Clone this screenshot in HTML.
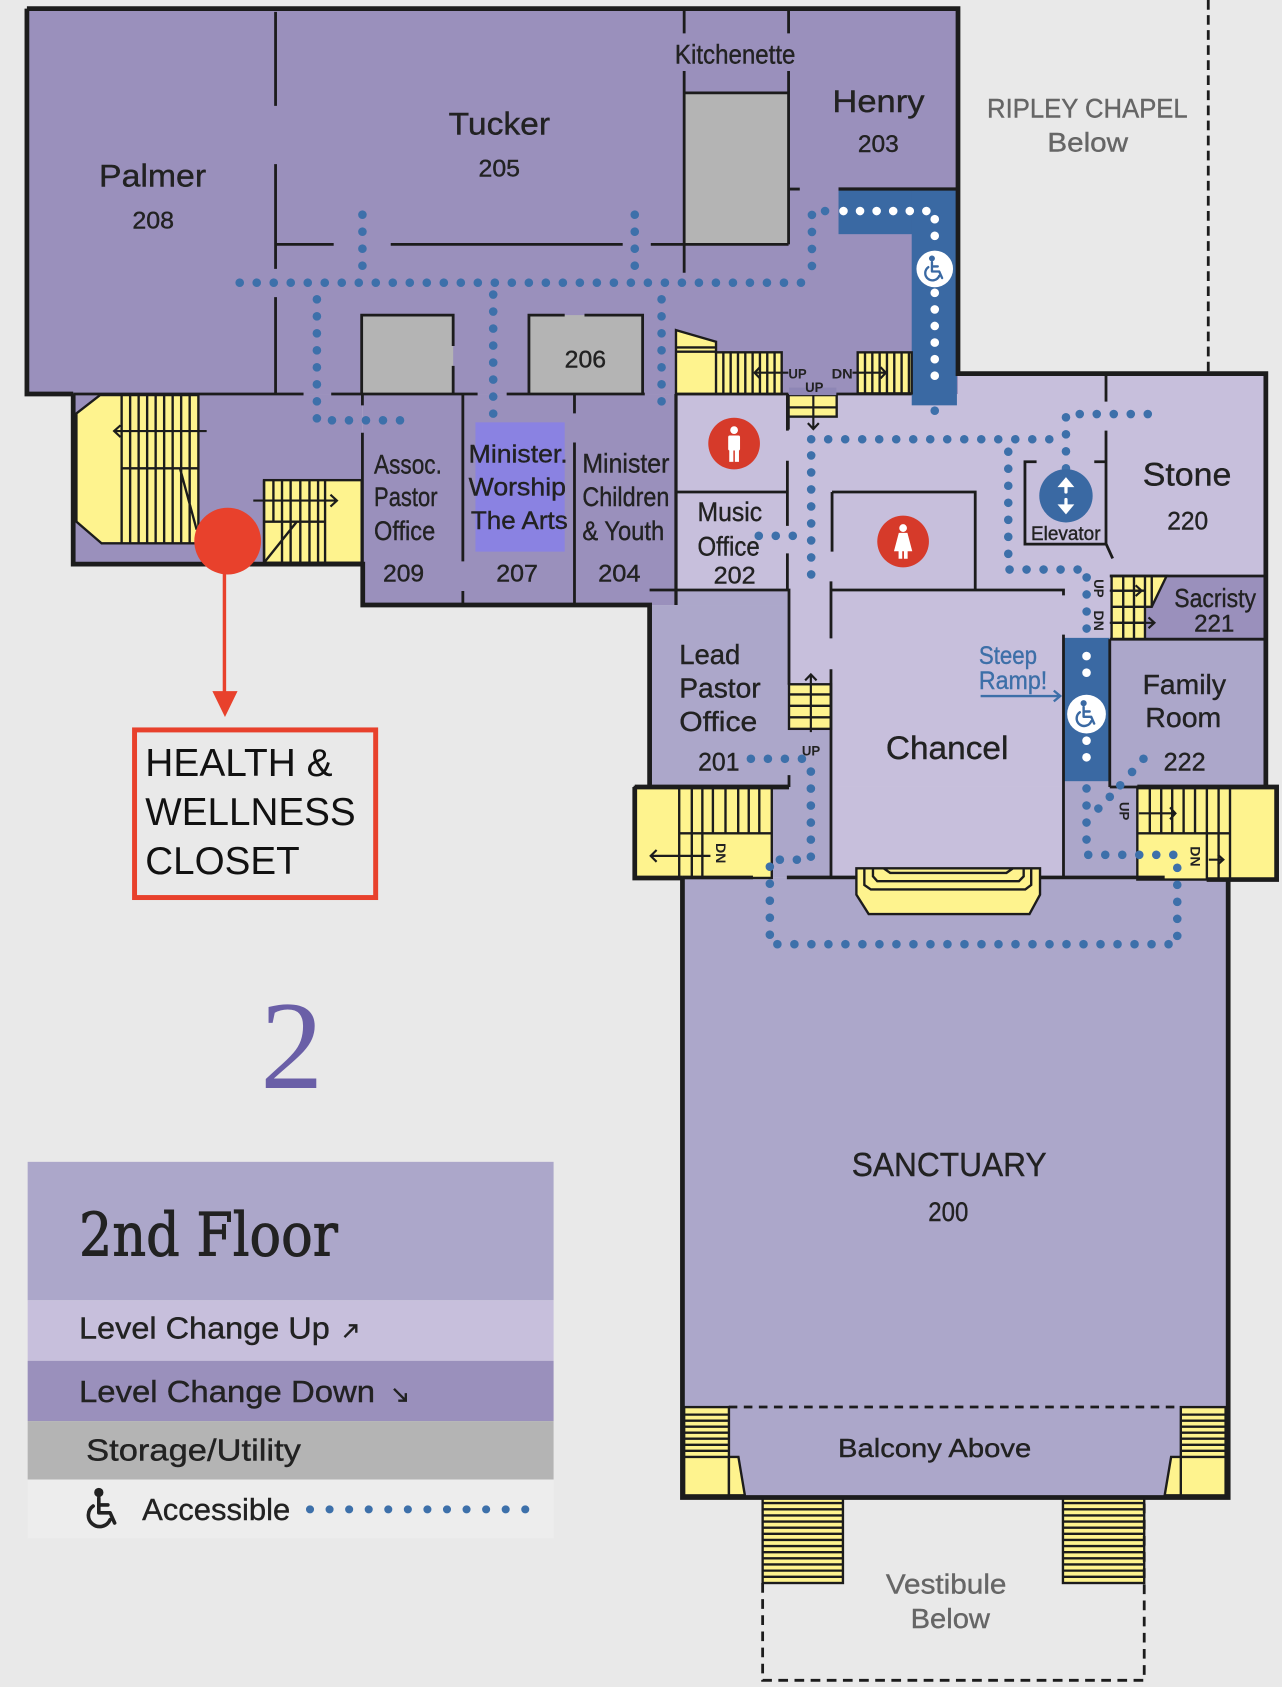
<!DOCTYPE html>
<html><head><meta charset="utf-8"><style>
html,body{margin:0;padding:0;background:#e9e9e9;overflow:hidden;}
svg{display:block;}
.t{font-family:"Liberation Sans",Arial,sans-serif;fill:#222;}
.s{stroke:#1c1c1c;fill:none;}
</style></head><body>
<svg xmlns="http://www.w3.org/2000/svg" width="1282" height="1687" viewBox="0 0 1191 1567" preserveAspectRatio="none">
<defs>
<symbol id="wc" viewBox="0 0 40 40">
<circle cx="16" cy="6" r="3.6"/>
<path d="M16 11V24H26L30 33M16 17H24M11 18A10 10 0 1 0 26 30" fill="none" stroke-width="3.2" stroke-linecap="round" stroke-linejoin="round"/>
</symbol>
</defs>
<rect x="0" y="0" width="1191" height="1567" fill="#e9e9e9"/>

<!-- light purple base -->
<rect x="628" y="347" width="548" height="384" fill="#c7bfdc"/>
<rect x="772" y="731" width="216" height="84" fill="#c7bfdc"/>
<!-- upper dark block -->
<rect x="25" y="8" width="865" height="358" fill="#9a90bc"/>
<rect x="68" y="366" width="269" height="158" fill="#9a90bc"/>
<rect x="337" y="366" width="291" height="196" fill="#9a90bc"/>
<!-- mid purple -->
<rect x="603.5" y="562" width="129.5" height="169" fill="#aca7ca"/>
<rect x="628" y="548" width="105" height="14" fill="#aca7ca"/>
<rect x="733" y="677" width="39" height="138" fill="#aca7ca"/>
<rect x="717" y="731" width="55" height="84" fill="#aca7ca"/>
<rect x="988" y="725" width="72" height="90" fill="#aca7ca"/>
<rect x="1031" y="593.7" width="145" height="137.3" fill="#aca7ca"/>
<rect x="634" y="815" width="507" height="576" fill="#aca7ca"/>
<!-- sacristy dark -->
<rect x="1063" y="535" width="113" height="58.7" fill="#9a90bc"/>
<!-- storage -->
<rect x="635.6" y="86.3" width="97" height="140.7" fill="#b4b4b4"/>
<rect x="336" y="292.7" width="85" height="73.3" fill="#b4b4b4"/>
<rect x="491.4" y="292.7" width="105.6" height="73.3" fill="#b4b4b4"/>
<!-- highlight -->
<rect x="441.7" y="392.3" width="82.9" height="120.1" fill="#8a82e2"/>

<!-- ramps -->
<rect x="779" y="175.6" width="111" height="41.9" fill="#3a69a3"/>
<rect x="847" y="175.6" width="42" height="200.9" fill="#3a69a3"/>
<rect x="988.5" y="592.5" width="42" height="133.1" fill="#3a69a3"/>

<!-- STAIRS -->
<g stroke="#1c1c1c" stroke-width="2.2" fill="#fef38e">
<polygon points="71,384 93,367 184.3,367 184.3,504.7 94.4,504.7 71,484.6"/>
<path fill="none" d="M113 367V504.7M120.9 367V504.7M128.8 367V504.7M136.7 367V504.7M144.6 367V504.7M152.5 367V504.7M160.4 367V504.7M168.3 367V504.7M176.2 367V504.7M113 435H184.3M167.2 435L182.7 492"/>
<rect x="245.3" y="446" width="90.7" height="76.7"/>
<path fill="none" d="M245.3 446V522.7M254 446V484.6M262 446V522.7M270 446V522.7M279 446V522.7M287.5 446V522.7M295.5 446V522.7M302 446V522.7M245.3 484.6H302M245.3 522.7L275.7 484.6"/>
<polygon points="628,306.6 665.2,317.4 665.2,327.3 726.2,327.3 726.2,366 628,366"/>
<path fill="none" d="M628 322.7H665.2M628 326.7H665.2M665.2 327.3V366M672 327.3V366M678.8 327.3V366M685.6 327.3V366M692.4 327.3V366M699.2 327.3V366M706 327.3V366M712.8 327.3V366M719.6 327.3V366"/>
<rect x="796.8" y="327.3" width="50.2" height="38.1"/>
<path fill="none" d="M803.6 327.3V365.4M810.4 327.3V365.4M817.2 327.3V365.4M824 327.3V365.4M830.8 327.3V365.4M837.6 327.3V365.4M844.4 327.3V365.4"/>
<rect x="732.4" y="367" width="44.9" height="20"/>
<path fill="none" d="M732.4 378.4H777.3"/>
<rect x="733" y="635.6" width="39" height="41.4"/>
<path fill="none" d="M733 645H772M733 655.6H772M733 666.3H772"/>
<polygon points="1032.7,535 1083.8,535 1070,563.6 1063.7,563.6 1063.7,593.7 1032.7,593.7"/>
<path fill="none" d="M1043.5 535V593.7M1053.5 535V593.7M1063.7 535V563.6M1070 535V563.6M1032.7 548.7H1063.7M1032.7 563.6H1063.7M1032.7 578.5H1063.7"/>
<rect x="589.7" y="731" width="127.3" height="84.5"/>
<path fill="none" d="M631 732.5V815M642.7 732.5V815M652.5 732.5V815M662.3 732.5V774M674 732.5V774M685.8 732.5V774M695.6 732.5V774M705.4 732.5V774M631 774H717"/>
<rect x="1056.6" y="731" width="129.4" height="86"/>
<path fill="none" d="M1068.2 731V774M1078.8 731V774M1089 731V774M1099.6 731V774M1110.2 731V774M1121.2 731V817M1132.1 731V817M1142.7 731V817M1056.6 774H1142.7"/>
<polygon points="795.6,806.6 966.2,806.6 966.2,831 956.4,849 807,849 795.6,831"/>
<path fill="none" d="M821 806.6L827 810.8H935L941 806.6M811 806.6V814L815 818.5H946.6L951 814V806.6M803 806.6V822L809 826.2H952.5L958 822V806.6"/>
<rect x="635.6" y="1307" width="41.6" height="82"/>
<path fill="none" d="M635.6 1314H677.2M635.6 1319.6H677.2M635.6 1325.2H677.2M635.6 1330.8H677.2M635.6 1336.4H677.2M635.6 1342H677.2M635.6 1347.6H677.2M635.6 1353.3H677.2"/>
<polygon points="677.2,1353.3 686,1353.3 692,1389 677.2,1389"/>
<rect x="1097" y="1307" width="41.6" height="82"/>
<path fill="none" d="M1097 1314H1138.6M1097 1319.6H1138.6M1097 1325.2H1138.6M1097 1330.8H1138.6M1097 1336.4H1138.6M1097 1342H1138.6M1097 1347.6H1138.6M1097 1353.3H1138.6"/>
<polygon points="1097,1353.3 1088,1353.3 1082,1389 1097,1389"/>
<rect x="708.5" y="1390.5" width="74.6" height="79.9"/>
<path fill="none" d="M708.5 1396.2H783.1M708.5 1401.9H783.1M708.5 1407.6H783.1M708.5 1413.3H783.1M708.5 1419H783.1M708.5 1424.7H783.1M708.5 1430.4H783.1M708.5 1436.1H783.1M708.5 1441.8H783.1M708.5 1447.5H783.1M708.5 1453.2H783.1M708.5 1458.9H783.1M708.5 1464.6H783.1"/>
<rect x="987.5" y="1390.5" width="75.5" height="79.9"/>
<path fill="none" d="M987.5 1396.2H1063M987.5 1401.9H1063M987.5 1407.6H1063M987.5 1413.3H1063M987.5 1419H1063M987.5 1424.7H1063M987.5 1430.4H1063M987.5 1436.1H1063M987.5 1441.8H1063M987.5 1447.5H1063M987.5 1453.2H1063M987.5 1458.9H1063M987.5 1464.6H1063"/>
</g>
<rect x="733" y="360" width="44" height="7" fill="#8e86b5"/>

<!-- INNER WALLS -->
<g class="s" stroke-width="2.6">
<path d="M256 11V98.4M256 152.4V249.8M256 276V366"/>
<path d="M256 227H310M363 227H578.5M604.6 227H732.6"/>
<path d="M635.6 8V31M635.6 66V253.4M732.6 8V31M732.6 66V227M732.6 175.6H743"/>
<path d="M635.6 86.3H732.6"/>
<path d="M336 366V292.7H421V321.4M421 339.8V366"/>
<path d="M491.4 366V292.7H524.6M543 292.7H597V366"/>
<path d="M68 366H282M307.7 366H443.7M470.7 366H599M628 366H732.4M777 366H847"/>
<path d="M336.7 366V376.5M336.7 402V562M430 366V521.5M430 549V562M533.7 366V384M533.7 411V562"/>
<path d="M628 366V562" stroke-width="3"/>
<path d="M628 457H731.5M731.5 367V400M731.5 428V488.5M731.5 514V548M732.4 367V399"/>
<path d="M603.5 548H733V636M733 720V731"/>
<path d="M773 457V512.4M773 457H906V548M772 540V593M772 621.6V814M772 548H988V553M988 589.5V814"/>
<path d="M1027.5 347V373M1027.5 400V505L1033.7 518.7"/>
<path d="M963 428.9H952.2V505.4H1027.5M1016.6 428.9H1027.5"/>
<path d="M1031 535H1176M1031 593.7H1176M1031 593.7V731M1031 731H1176"/>
<path d="M779 175.6H890" stroke-width="3"/>
</g>
<!-- OUTER WALLS -->
<g class="s" stroke-width="4.4" stroke-linejoin="miter">
<path d="M25 8H890V347H1176V731"/>
<path d="M25 8V366H68"/>
<path d="M68 366V524H337V562H603.5V731"/>
<path d="M589.7 731H733M589.7 731V815.5H634"/>
<path d="M634 815V1391H1141V817"/>
<path d="M1056.6 731H1186V817H1121"/>
<path d="M634 815H699.5M731 815H795.6M966 815H1082" stroke-width="3.4"/>
</g>

<!-- dashed lines -->
<g class="s" stroke-width="2.6">
<path d="M1122.5 0V347" stroke-dasharray="9 5"/>
<path d="M677 1306.9H1097" stroke-dasharray="8 6"/>
<path d="M708.5 1470.4V1560.8H1063V1390.5" stroke-dasharray="9 6"/>
</g>

<!-- stair arrows -->
<g stroke="#1c1c1c" stroke-width="2" fill="none">
<path d="M192 400.4H106M112 395L106 400.4L112 406"/>
<path d="M235.3 465H313M307 459.5L313 465L307 470.5"/>
<path d="M732.4 346.2H701M706 341L701 346.2L706 351.5"/>
<path d="M792 346.2H823M818 341L823 346.2L818 351.5"/>
<path d="M755.6 367V398M750.5 393L755.6 398.5L760.7 393"/>
<path d="M753.3 680V627M748 632L753.3 626.5L758.6 632"/>
<path d="M660 795H604.5M610 789.5L604.5 795L610 800.5"/>
<path d="M1058 755.5H1092M1087 750L1092 755.5L1087 761"/>
<path d="M1123 798.5H1136M1131.5 794L1136.5 798.5L1131.5 803"/>
<path d="M1031 548.7H1060M1055 543.7L1060.6 548.7L1055 553.7"/>
<path d="M1031 578.5H1072M1067 573.5L1072.5 578.5L1067 583.5"/>
</g>
<g stroke="#3d6fa8" stroke-width="2.2" fill="none">
<path d="M911 646.5H984M979 641.5L985 646.5L979 651.5"/>
</g>

<!-- DOTTED PATHS -->
<g stroke="#3d70aa" stroke-width="8" stroke-linecap="round" stroke-dasharray="0 15.8" fill="none">
<path d="M222.7 262.6H754.3"/>
<path d="M336.7 199.4V252"/>
<path d="M589.7 199.4V252"/>
<path d="M294.4 278V390.4H377.4"/>
<path d="M458.2 273.6V385.7"/>
<path d="M614.6 278V388"/>
<path d="M754.3 247V196H770"/>
<path d="M868.4 381.5V397"/>
<path d="M753.6 408H990.3"/>
<path d="M990.3 435V384.6H1076"/>
<path d="M936.7 419.6V529H1009.5V592"/>
<path d="M753.6 423V545"/>
<path d="M1009.4 732.4V794H1093.7V877H715.2V798.5H753.3V704.8"/>
<path d="M697.6 704.8H745"/>
<path d="M704.9 497.7H745"/>
</g>
<g fill="#3d70aa">
<circle cx="1020.4" cy="751" r="4"/><circle cx="1031" cy="740.1" r="4"/><circle cx="1040.7" cy="729.4" r="4"/><circle cx="1051.7" cy="717" r="4"/><circle cx="1062.3" cy="704.8" r="4"/>
</g>
<g stroke="#ffffff" stroke-width="8" stroke-linecap="round" stroke-dasharray="0 15.4" fill="none">
<path d="M783.6 196H868.4V228"/>
<path d="M868.4 272V364"/>
<path d="M1009.4 609.4V640"/>
<path d="M1009.4 688V718.6"/>
</g>
<circle cx="868.4" cy="249.8" r="17" fill="#fff"/>
<use href="#wc" x="855" y="236" width="27" height="27" fill="#3a69a3" stroke="#3a69a3"/>
<circle cx="1009.4" cy="663.3" r="18" fill="#fff"/>
<use href="#wc" x="995.5" y="649" width="28" height="28" fill="#3a69a3" stroke="#3a69a3"/>

<!-- restroom icons -->
<circle cx="682" cy="412" r="24" fill="#d63a2a"/>
<g fill="#fff"><circle cx="682" cy="399.5" r="3.6"/><rect x="676.5" y="404.5" width="11" height="14" rx="1.5"/><rect x="677.5" y="417" width="3.8" height="12"/><rect x="682.7" y="417" width="3.8" height="12"/></g>
<circle cx="839" cy="503" r="24" fill="#d63a2a"/>
<g fill="#fff"><circle cx="839" cy="490.5" r="3.6"/><polygon points="835,495 843,495 847.5,512 830.5,512"/><rect x="834.8" y="511" width="3.4" height="8"/><rect x="839.8" y="511" width="3.4" height="8"/></g>
<!-- elevator -->
<circle cx="990.3" cy="460.5" r="24.8" fill="#3a69a3"/>
<g fill="#fff" stroke="#fff" stroke-width="3" stroke-linecap="round">
<path d="M990.3 450V457M990.3 464V471" fill="none"/>
<polygon points="983.5,452 990.3,444 997,452" stroke-width="1"/>
<polygon points="983.5,469 990.3,477 997,469" stroke-width="1"/>
</g>

<!-- health marker -->
<circle cx="211.5" cy="502.6" r="31" fill="#e8412c"/>
<path d="M208.5 533V646" stroke="#e8412c" stroke-width="3.2"/>
<polygon points="197.3,642 220.7,642 209,666" fill="#e8412c"/>
<rect x="125" y="678" width="224" height="155.7" fill="none" stroke="#e8412c" stroke-width="4.6"/>
<g class="t" font-size="36" style="fill:#111">
<text x="135" y="721" textLength="174" lengthAdjust="spacingAndGlyphs">HEALTH &amp;</text>
<text x="135" y="766.3" textLength="195.4" lengthAdjust="spacingAndGlyphs">WELLNESS</text>
<text x="135" y="812" textLength="143.4" lengthAdjust="spacingAndGlyphs">CLOSET</text>
</g>
<text x="271" y="1010.6" text-anchor="middle" font-family="Liberation Serif, serif" font-size="117" fill="#6a5fa7">2</text>

<!-- MAP LABELS -->
<g class="t" stroke="#222" stroke-width="0.35">
<text x="92" y="173.4" font-size="29" textLength="99.5" lengthAdjust="spacingAndGlyphs">Palmer</text>
<text x="123" y="212.3" font-size="22" textLength="38.7" lengthAdjust="spacingAndGlyphs">208</text>
<text x="416.8" y="124.9" font-size="29" textLength="94.2" lengthAdjust="spacingAndGlyphs">Tucker</text>
<text x="444.6" y="164" font-size="22" textLength="38.5" lengthAdjust="spacingAndGlyphs">205</text>
<text x="524.6" y="341.6" font-size="22" textLength="38.4" lengthAdjust="spacingAndGlyphs">206</text>
<text x="627" y="58.8" font-size="25" textLength="112" lengthAdjust="spacingAndGlyphs">Kitchenette</text>
<text x="773.3" y="104" font-size="29" textLength="85.6" lengthAdjust="spacingAndGlyphs">Henry</text>
<text x="797" y="141.4" font-size="22" textLength="38" lengthAdjust="spacingAndGlyphs">203</text>
<text x="347.5" y="439.7" font-size="25" textLength="63" lengthAdjust="spacingAndGlyphs">Assoc.</text>
<text x="347.5" y="470" font-size="25" textLength="59" lengthAdjust="spacingAndGlyphs">Pastor</text>
<text x="347.5" y="501.4" font-size="25" textLength="56.8" lengthAdjust="spacingAndGlyphs">Office</text>
<text x="355.8" y="540" font-size="22" textLength="38.2" lengthAdjust="spacingAndGlyphs">209</text>
<text x="435.4" y="429.7" font-size="23" textLength="92" lengthAdjust="spacingAndGlyphs">Minister.</text>
<text x="435.4" y="460.2" font-size="23" textLength="90.4" lengthAdjust="spacingAndGlyphs">Worship</text>
<text x="437.5" y="491.4" font-size="23" textLength="90" lengthAdjust="spacingAndGlyphs">The Arts</text>
<text x="461" y="540" font-size="22" textLength="38.7" lengthAdjust="spacingAndGlyphs">207</text>
<text x="541" y="439" font-size="25" textLength="80.9" lengthAdjust="spacingAndGlyphs">Minister</text>
<text x="541" y="470" font-size="25" textLength="80.9" lengthAdjust="spacingAndGlyphs">Children</text>
<text x="541" y="501.4" font-size="25" textLength="76" lengthAdjust="spacingAndGlyphs">&amp; Youth</text>
<text x="555.7" y="540" font-size="22" textLength="39.4" lengthAdjust="spacingAndGlyphs">204</text>
<text x="648" y="484" font-size="25" textLength="60" lengthAdjust="spacingAndGlyphs">Music</text>
<text x="648" y="516" font-size="25" textLength="57.8" lengthAdjust="spacingAndGlyphs">Office</text>
<text x="663" y="541.8" font-size="22" textLength="39" lengthAdjust="spacingAndGlyphs">202</text>
<text x="957.8" y="501.4" font-size="18" textLength="64.6" lengthAdjust="spacingAndGlyphs">Elevator</text>
<text x="1061.6" y="451" font-size="30" textLength="82.4" lengthAdjust="spacingAndGlyphs">Stone</text>
<text x="1084.4" y="492" font-size="23" textLength="38" lengthAdjust="spacingAndGlyphs">220</text>
<text x="1090.9" y="563.8" font-size="24" textLength="76" lengthAdjust="spacingAndGlyphs">Sacristy</text>
<text x="1109.4" y="586.4" font-size="22" textLength="37.3" lengthAdjust="spacingAndGlyphs">221</text>
<text x="631" y="617" font-size="26" textLength="56.8" lengthAdjust="spacingAndGlyphs">Lead</text>
<text x="631" y="647.9" font-size="26" textLength="75.7" lengthAdjust="spacingAndGlyphs">Pastor</text>
<text x="631" y="679.2" font-size="26" textLength="72.5" lengthAdjust="spacingAndGlyphs">Office</text>
<text x="648.6" y="715.5" font-size="23" textLength="38.4" lengthAdjust="spacingAndGlyphs">201</text>
<text x="823" y="704.8" font-size="30" textLength="113.8" lengthAdjust="spacingAndGlyphs">Chancel</text>
<text x="1061.5" y="644.8" font-size="26" textLength="77.5" lengthAdjust="spacingAndGlyphs">Family</text>
<text x="1064" y="675.5" font-size="26" textLength="70.6" lengthAdjust="spacingAndGlyphs">Room</text>
<text x="1081" y="715.5" font-size="23" textLength="39" lengthAdjust="spacingAndGlyphs">222</text>
<text x="791.3" y="1092.5" font-size="31" textLength="181" lengthAdjust="spacingAndGlyphs">SANCTUARY</text>
<text x="862.4" y="1134.3" font-size="25" textLength="37.2" lengthAdjust="spacingAndGlyphs">200</text>
<text x="778.5" y="1353.3" font-size="24" textLength="179.5" lengthAdjust="spacingAndGlyphs">Balcony Above</text>
</g>
<g class="t" stroke-width="0.35">
<text x="917" y="109" font-size="25" textLength="186.4" lengthAdjust="spacingAndGlyphs" style="fill:#666" stroke="#666">RIPLEY CHAPEL</text>
<text x="973" y="140.7" font-size="25" textLength="75" lengthAdjust="spacingAndGlyphs" style="fill:#666" stroke="#666">Below</text>
<text x="909.4" y="617" font-size="23" textLength="54" lengthAdjust="spacingAndGlyphs" style="fill:#3d6fa8" stroke="#3d6fa8">Steep</text>
<text x="909.4" y="640" font-size="23" textLength="63.5" lengthAdjust="spacingAndGlyphs" style="fill:#3d6fa8" stroke="#3d6fa8">Ramp!</text>
<text x="823" y="1480.3" font-size="26" textLength="112" lengthAdjust="spacingAndGlyphs" style="fill:#666" stroke="#666">Vestibule</text>
<text x="846" y="1512" font-size="26" textLength="73.7" lengthAdjust="spacingAndGlyphs" style="fill:#666" stroke="#666">Below</text>
</g>
<!-- small UP/DN labels -->
<g class="t" font-size="13" font-weight="bold">
<text x="732.4" y="351.5" textLength="17" lengthAdjust="spacingAndGlyphs">UP</text>
<text x="748" y="363.9" textLength="17" lengthAdjust="spacingAndGlyphs">UP</text>
<text x="772.6" y="351.5" textLength="19.6" lengthAdjust="spacingAndGlyphs">DN</text>
<text x="745" y="701.7" textLength="17" lengthAdjust="spacingAndGlyphs">UP</text>
<text transform="translate(1016.5,538) rotate(90)" textLength="17" lengthAdjust="spacingAndGlyphs">UP</text>
<text transform="translate(1016.5,567) rotate(90)" textLength="19" lengthAdjust="spacingAndGlyphs">DN</text>
<text transform="translate(1040,745) rotate(90)" textLength="17" lengthAdjust="spacingAndGlyphs">UP</text>
<text transform="translate(1106,786) rotate(90)" textLength="19" lengthAdjust="spacingAndGlyphs">DN</text>
<text transform="translate(665,783) rotate(90)" textLength="19" lengthAdjust="spacingAndGlyphs">DN</text>
</g>

<!-- LEGEND -->
<rect x="25.7" y="1079.2" width="488.6" height="128.6" fill="#aca7ca"/>
<rect x="25.7" y="1207.8" width="488.6" height="56.2" fill="#c7bfdc"/>
<rect x="25.7" y="1264" width="488.6" height="56" fill="#9a90bc"/>
<rect x="25.7" y="1320" width="488.6" height="54.3" fill="#b4b4b4"/>
<rect x="25.7" y="1374.3" width="488.6" height="54.7" fill="#ededed"/>
<text x="73.4" y="1166" font-family="DejaVu Serif, Liberation Serif, serif" font-size="56" fill="#222" stroke="#222" stroke-width="0.9" textLength="240.4" lengthAdjust="spacingAndGlyphs">2nd Floor</text>
<g class="t" font-size="28" stroke="#222" stroke-width="0.35">
<text x="73.4" y="1243.3" textLength="233" lengthAdjust="spacingAndGlyphs">Level Change Up</text>
<text x="73.4" y="1302.2" textLength="275" lengthAdjust="spacingAndGlyphs">Level Change Down</text>
<text x="80" y="1356.4" textLength="199.6" lengthAdjust="spacingAndGlyphs">Storage/Utility</text>
<text x="132" y="1412" textLength="137.6" lengthAdjust="spacingAndGlyphs">Accessible</text>
</g>
<g stroke="#222" stroke-width="2.2" fill="none">
<path d="M320 1242L331 1231M324 1231H331V1238"/>
<path d="M366 1290L377 1301M370 1301H377V1294"/>
</g>
<use href="#wc" x="75" y="1380" width="42" height="42" fill="#222" stroke="#222"/>
<path d="M288 1402H489" stroke="#3d70aa" stroke-width="7.5" stroke-linecap="round" stroke-dasharray="0 18.18" fill="none"/>
</svg>
</body></html>
